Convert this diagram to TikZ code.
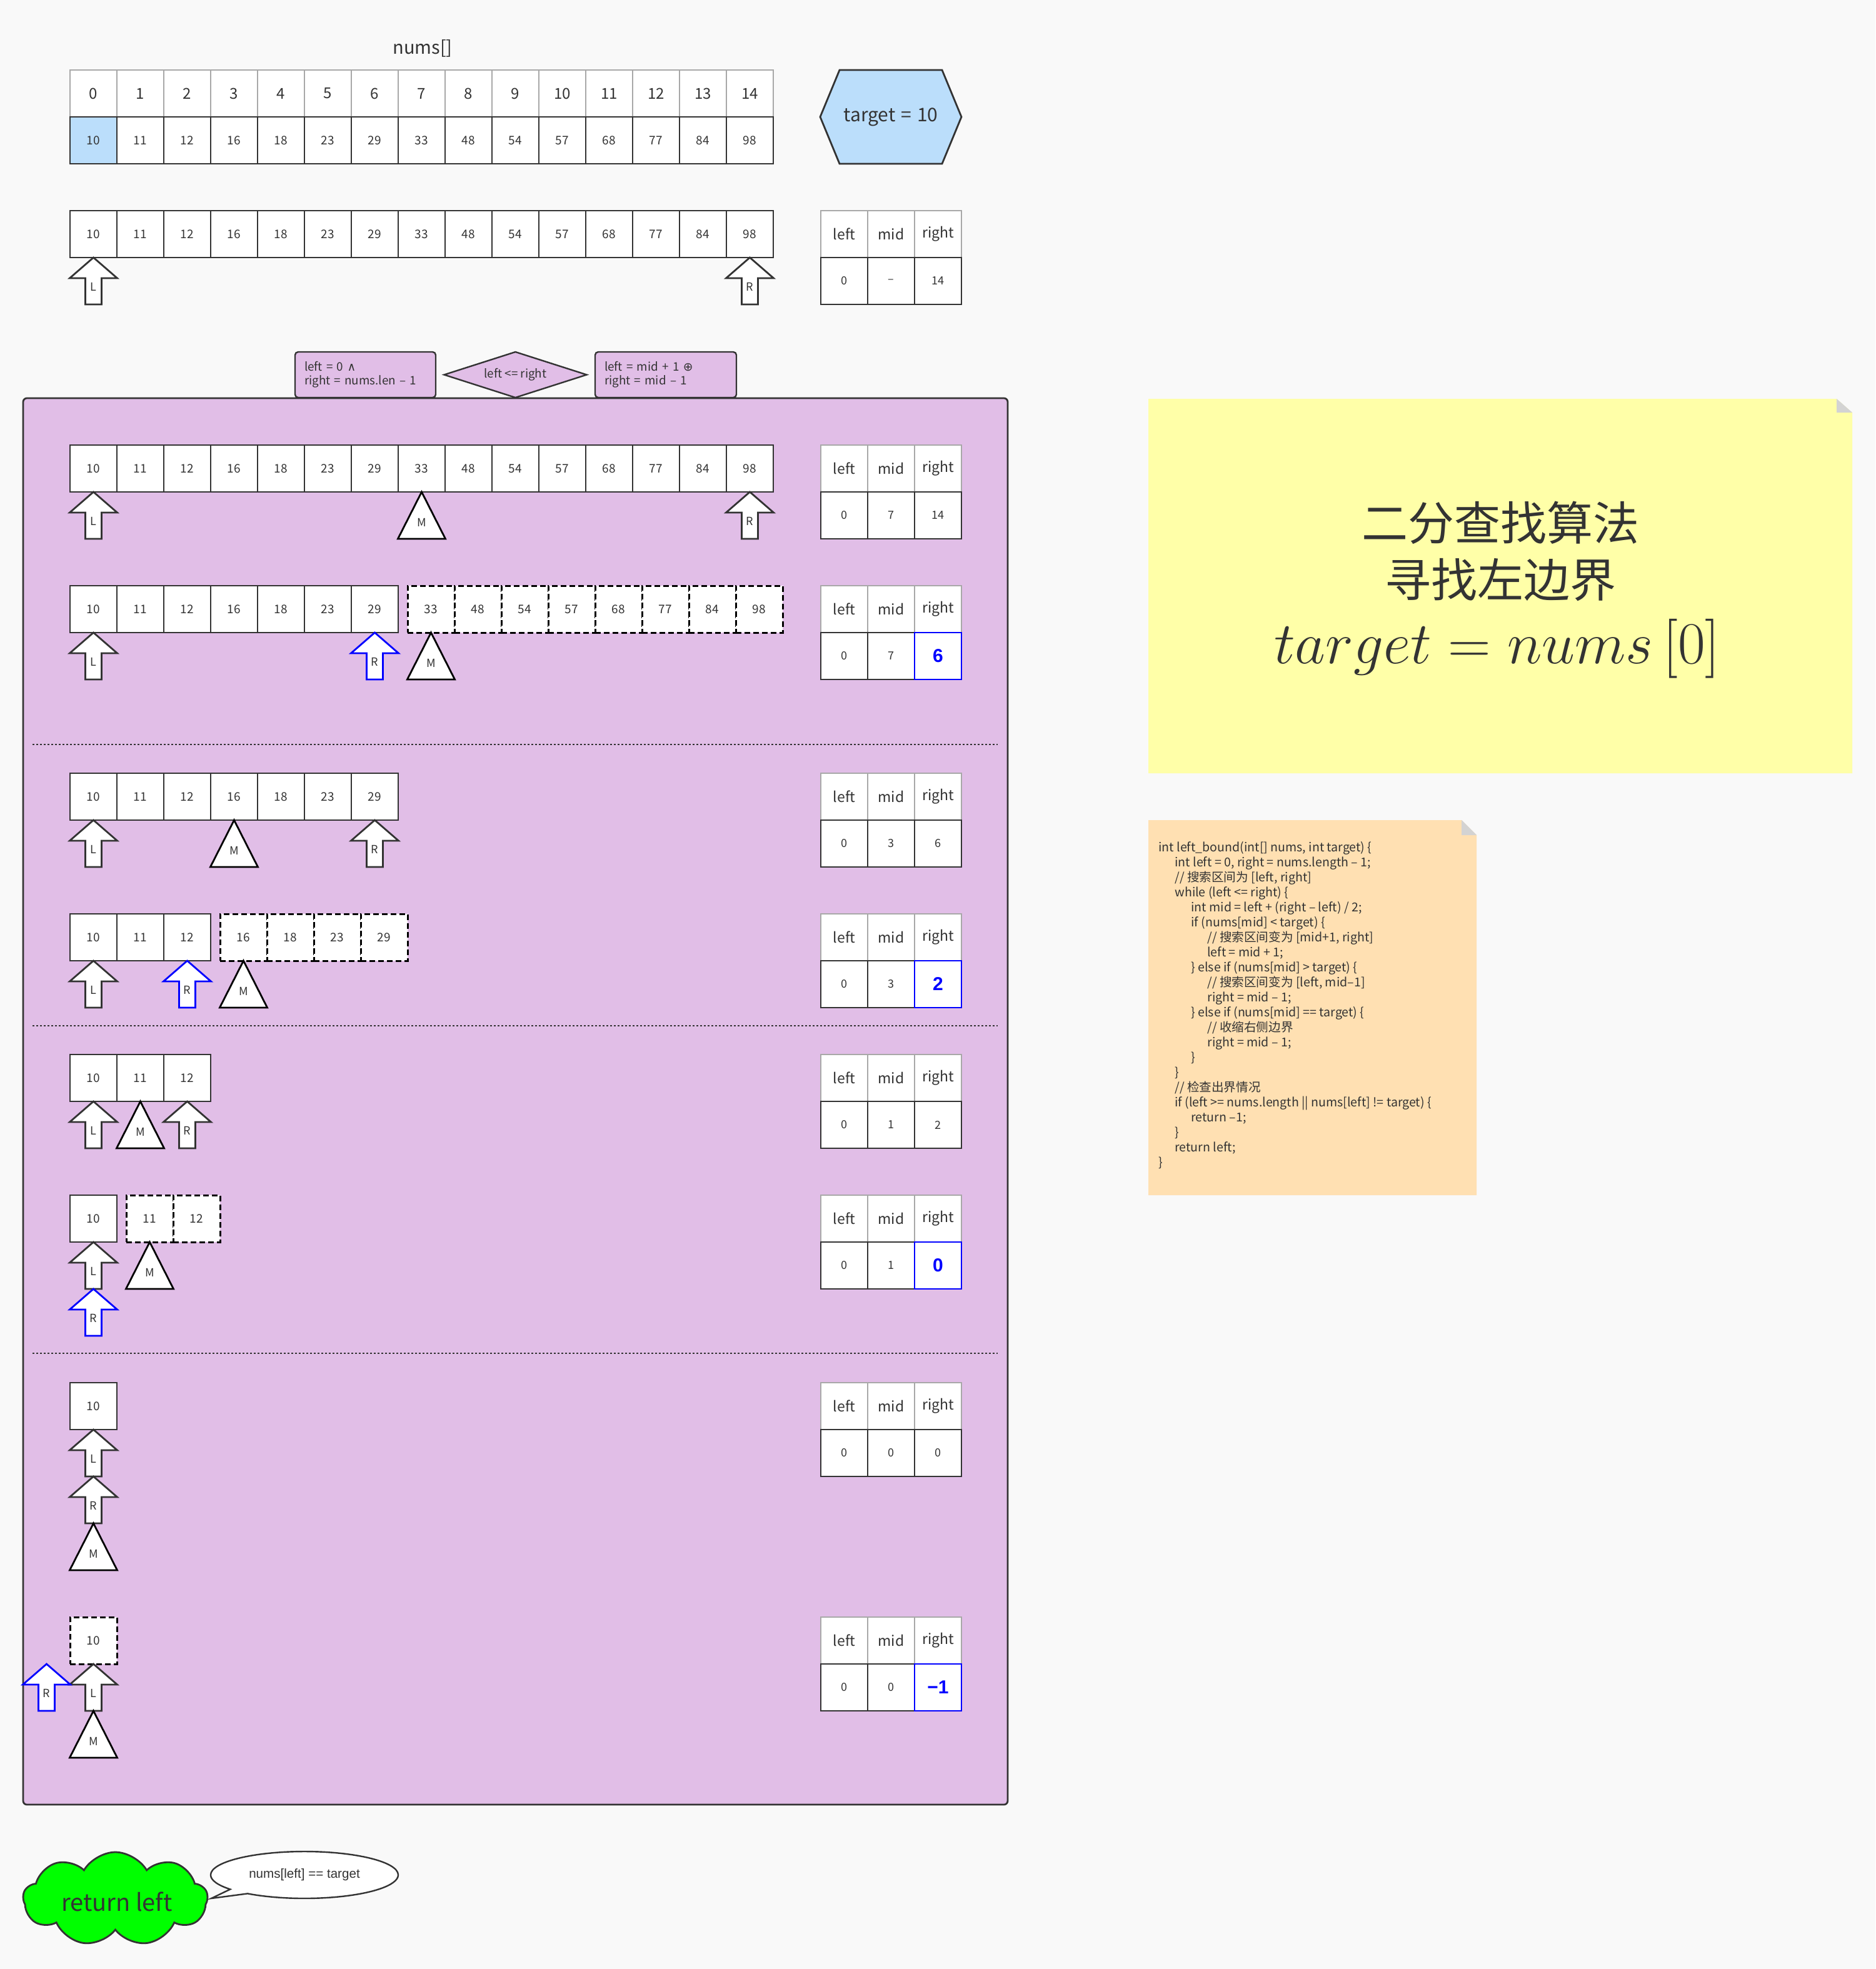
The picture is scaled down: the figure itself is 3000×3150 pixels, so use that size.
\RequirePackage{fix-cm}
\documentclass[tikz,border=0pt]{standalone}
\usepackage{fontspec}
\setmainfont{Noto Sans CJK SC}
\newfontfamily\dejavu{DejaVu Sans}
\newfontfamily\libsans{Liberation Sans}
\usetikzlibrary{shapes.geometric,shapes.symbols,shapes.callouts}
\definecolor{bgc}{HTML}{F9F9F9}
\definecolor{dark}{HTML}{333333}
\definecolor{txt}{HTML}{333333}
\definecolor{purp}{HTML}{E1BEE7}
\definecolor{lblue}{HTML}{BBDEFB}
\definecolor{yel}{HTML}{FFFFA8}
\definecolor{org}{HTML}{FFE0B2}
\definecolor{grn}{HTML}{00FF00}
\definecolor{hdrline}{HTML}{A8A8A8}
\definecolor{foldgray}{HTML}{D3D3D3}
\definecolor{pblue}{HTML}{0000FF}
\tikzset{
  cell/.style={draw=dark, line width=1.4pt, fill=white, minimum width=37.5pt, minimum height=37.5pt, inner sep=0pt, text=txt, font=\fontsize{9.5}{11}\selectfont},
  dcell/.style={cell, draw=black, line width=1.5pt, dash pattern=on 4.5pt off 2.5pt},
  hdr/.style={draw=hdrline, line width=0.75pt, fill=white, minimum width=37.5pt, minimum height=37.5pt, inner sep=0pt, text=txt, font=\fontsize{11.5}{13}\selectfont},
  idxcell/.style={hdr, font=\fontsize{12}{14}\selectfont},
  val/.style={cell, font=\fontsize{9}{11}\selectfont},
  bval/.style={cell, draw=pblue, text=pblue, font=\libsans\bfseries\fontsize{15}{17}\selectfont},
  ptr/.style={draw=dark, line width=1.4pt, fill=white, line join=miter},
  lbl/.style={font=\fontsize{9}{10}\selectfont, inner sep=0pt, text=txt},
  sepline/.style={draw=dark, line width=1pt, dash pattern=on 1.5pt off 1.5pt},
  fbox/.style={draw=dark, line width=1.2pt, fill=purp, rounded corners=2.5pt, inner xsep=7.5pt, align=left, text=txt, font=\fontsize{9.4}{11}\selectfont},
  codetext/.style={inner sep=0pt, align=left, text=txt, font=\fontsize{9.8}{12}\selectfont}
}
\newcommand\ArrRow[5]{%
  \foreach \v [count=\i from 0] in {#5} {
    \node[#4] (#1-\i) at ({#2+37.5+75*\i},{#3+37.5}) {\v};
  }%
}
\newcommand\LMR[6]{%
  \node[hdr] (#1-hl) at (1350.5,#2+37.5) {left};
  \node[hdr] (#1-hm) at (1425.5,#2+37.5) {mid};
  \node[hdr] (#1-hr) at (1500.5,#2+37.5) {right};
  \node[val] (#1-vl) at (1350.5,#2+112.5) {#3};
  \node[val] (#1-vm) at (1425.5,#2+112.5) {#4};
  \node[#5] (#1-vr) at (1500.5,#2+112.5) {#6};
}
\newcommand\UpArr[5]{%
  \draw[ptr, draw=#5] (#2,#3) -- ++(38,33) -- ++(-25,0) -- ++(0,42) -- ++(-26,0) -- ++(0,-42) -- ++(-25,0) -- cycle;
  \node[lbl] (#1) at (#2,#3+47) {#4};
}
\newcommand\MidTri[3]{%
  \draw[ptr, draw=black] (#2,#3) -- ++(38,75) -- ++(-76,0) -- cycle;
  \node[lbl] (#1) at (#2,#3+49) {M};
}
\newcommand\cI{\hspace*{13pt}}
\begin{document}
\begin{tikzpicture}[x=0.5pt,y=-0.5pt]
\useasboundingbox (0,0) rectangle (3000,3150);
\fill[fill=bgc] (0,0) rectangle (3000,3150);

% ---- header area
\node[font=\fontsize{14.5}{16}\selectfont, text=txt] (numslbl) at (676,77) {nums[]};
\ArrRow{idx}{112}{112}{idxcell}{0,1,2,3,4,5,6,7,8,9,10,11,12,13,14}
\node[cell, fill=lblue] (top-0) at (149.5,224.5) {10};
\ArrRow{top}{187}{187}{cell}{11,12,16,18,23,29,33,48,54,57,68,77,84,98}
\draw[line width=1.4pt, draw=dark, fill=lblue] (1312,187) -- (1343,112) -- (1507,112) -- (1538,187) -- (1507,262) -- (1343,262) -- cycle;
\node[font=\fontsize{15}{17}\selectfont, text=txt] (target) at (1425,187) {target\hspace{0.3em}=\hspace{0.3em}10};

\ArrRow{r0}{112}{337}{cell}{10,11,12,16,18,23,29,33,48,54,57,68,77,84,98}
\UpArr{r0L}{149.5}{412}{L}{dark}
\UpArr{r0R}{1199.5}{412}{R}{dark}
\LMR{t0}{337}{0}{–}{val}{14}

% ---- main purple box
\draw[draw=dark, line width=1.4pt, fill=purp, rounded corners=3pt] (37,637) rectangle (1612,2887);
\node[fbox, text width=97.5pt, minimum height=36.5pt] (init) at (584.5,599.5) {left = 0 {\dejavu ∧}\\right = nums.len – 1};
\node[diamond, aspect=3.1, draw=dark, line width=1.2pt, fill=purp, minimum width=114.5pt, minimum height=37pt, inner sep=0pt, text=txt, font=\fontsize{9.4}{11}\selectfont] (cond) at (824.5,599.5) {left <= right};
\node[fbox, text width=98pt, minimum height=36.5pt] (upd) at (1065,599.5) {left = mid + 1 {\dejavu ⊕}\\right = mid – 1};

% row A
\ArrRow{rA}{112}{712}{cell}{10,11,12,16,18,23,29,33,48,54,57,68,77,84,98}
\UpArr{rAL}{149.5}{787}{L}{dark}
\MidTri{rAM}{674.5}{787}
\UpArr{rAR}{1199.5}{787}{R}{dark}
\LMR{tA}{712}{0}{7}{val}{14}

% row B
\ArrRow{rB}{112}{937}{cell}{10,11,12,16,18,23,29}
\ArrRow{rBd}{652}{937}{dcell}{33,48,54,57,68,77,84,98}
\UpArr{rBL}{149.5}{1012}{L}{dark}
\UpArr{rBR}{599.5}{1012}{R}{pblue}
\MidTri{rBM}{689.5}{1012}
\LMR{tB}{937}{0}{7}{bval}{6}

\coordinate (s1l) at (52,1191); \coordinate (s1r) at (1596,1191);
\draw[sepline] (s1l) -- (s1r);

% row C
\ArrRow{rC}{112}{1237}{cell}{10,11,12,16,18,23,29}
\UpArr{rCL}{149.5}{1312}{L}{dark}
\MidTri{rCM}{374.5}{1312}
\UpArr{rCR}{599.5}{1312}{R}{dark}
\LMR{tC}{1237}{0}{3}{val}{6}

% row D
\ArrRow{rD}{112}{1462}{cell}{10,11,12}
\ArrRow{rDd}{352}{1462}{dcell}{16,18,23,29}
\UpArr{rDL}{149.5}{1537}{L}{dark}
\UpArr{rDR}{299.5}{1537}{R}{pblue}
\MidTri{rDM}{389.5}{1537}
\LMR{tD}{1462}{0}{3}{bval}{2}

\coordinate (s2l) at (52,1641); \coordinate (s2r) at (1596,1641);
\draw[sepline] (s2l) -- (s2r);

% row E
\ArrRow{rE}{112}{1687}{cell}{10,11,12}
\UpArr{rEL}{149.5}{1762}{L}{dark}
\MidTri{rEM}{224.5}{1762}
\UpArr{rER}{299.5}{1762}{R}{dark}
\LMR{tE}{1687}{0}{1}{val}{2}

% row F
\ArrRow{rF}{112}{1912}{cell}{10}
\ArrRow{rFd}{202}{1912}{dcell}{11,12}
\UpArr{rFL}{149.5}{1987}{L}{dark}
\UpArr{rFR}{149.5}{2062}{R}{pblue}
\MidTri{rFM}{239.5}{1987}
\LMR{tF}{1912}{0}{1}{bval}{0}

\coordinate (s3l) at (52,2165); \coordinate (s3r) at (1596,2165);
\draw[sepline] (s3l) -- (s3r);

% row G
\ArrRow{rG}{112}{2212}{cell}{10}
\UpArr{rGL}{149.5}{2287}{L}{dark}
\UpArr{rGR}{149.5}{2362}{R}{dark}
\MidTri{rGM}{149.5}{2437}
\LMR{tG}{2212}{0}{0}{val}{0}

% row H
\ArrRow{rHd}{112}{2587}{dcell}{10}
\UpArr{rHL}{149.5}{2662}{L}{dark}
\UpArr{rHR}{74.5}{2662}{R}{pblue}
\MidTri{rHM}{149.5}{2737}
\LMR{tH}{2587}{0}{0}{bval}{−1}

% ---- yellow note
\fill[fill=yel] (1837,638) -- (2938,638) -- (2963,660) -- (2963,1237) -- (1837,1237) -- cycle;
\fill[fill=foldgray] (2938,638) -- (2938,660) -- (2963,660) -- cycle;
\node[font=\fontsize{37}{40}\selectfont, text=txt] (title1) at (2400,836) {二分查找算法};
\node[font=\fontsize{37}{40}\selectfont, text=txt] (title2) at (2400,928) {寻找左边界};
\node[font=\fontsize{47.5}{52}\selectfont, text=txt] (title3) at (2395,1038) {$target = nums\left[0\right]$};

% ---- code note
\fill[fill=org] (1837,1312) -- (2338,1312) -- (2362,1336) -- (2362,1912) -- (1837,1912) -- cycle;
\fill[fill=foldgray] (2338,1312) -- (2338,1336) -- (2362,1336) -- cycle;
\node[codetext, anchor=north west] (code) at (1853,1346) {%
int left\_bound(int[] nums, int target) \{\\
\cI int left = 0, right = nums.length – 1;\\
\cI // 搜索区间为 [left, right]\\
\cI while (left <= right) \{\\
\cI\cI int mid = left + (right – left) / 2;\\
\cI\cI if (nums[mid] < target) \{\\
\cI\cI\cI // 搜索区间变为 [mid+1, right]\\
\cI\cI\cI left = mid + 1;\\
\cI\cI \} else if (nums[mid] > target) \{\\
\cI\cI\cI // 搜索区间变为 [left, mid–1]\\
\cI\cI\cI right = mid – 1;\\
\cI\cI \} else if (nums[mid] == target) \{\\
\cI\cI\cI // 收缩右侧边界\\
\cI\cI\cI right = mid – 1;\\
\cI\cI \}\\
\cI \}\\
\cI // 检查出界情况\\
\cI if (left >= nums.length || nums[left] != target) \{\\
\cI\cI return –1;\\
\cI \}\\
\cI return left;\\
\}};

% ---- return cloud and bubble
\node[cloud, cloud puffs=9, cloud puff arc=120, aspect=2, draw=dark, line width=1.4pt, fill=grn, minimum width=147.5pt, minimum height=75pt, inner sep=0pt] (retcloud) at (184.5,3038) {};
\node[font=\fontsize{19}{21}\selectfont, text=txt] (ret) at (187,3042) {return left};
\coordinate (tip) at (338,3037);
\node[ellipse callout, draw=dark, line width=1.2pt, fill=white, minimum width=150pt, minimum height=37.5pt, callout absolute pointer={(tip)}, text=txt, font=\libsans\fontsize{10.3}{12}\selectfont] (bubble) at (487,2999.5) {nums[left] == target};
\end{tikzpicture}
\end{document}
